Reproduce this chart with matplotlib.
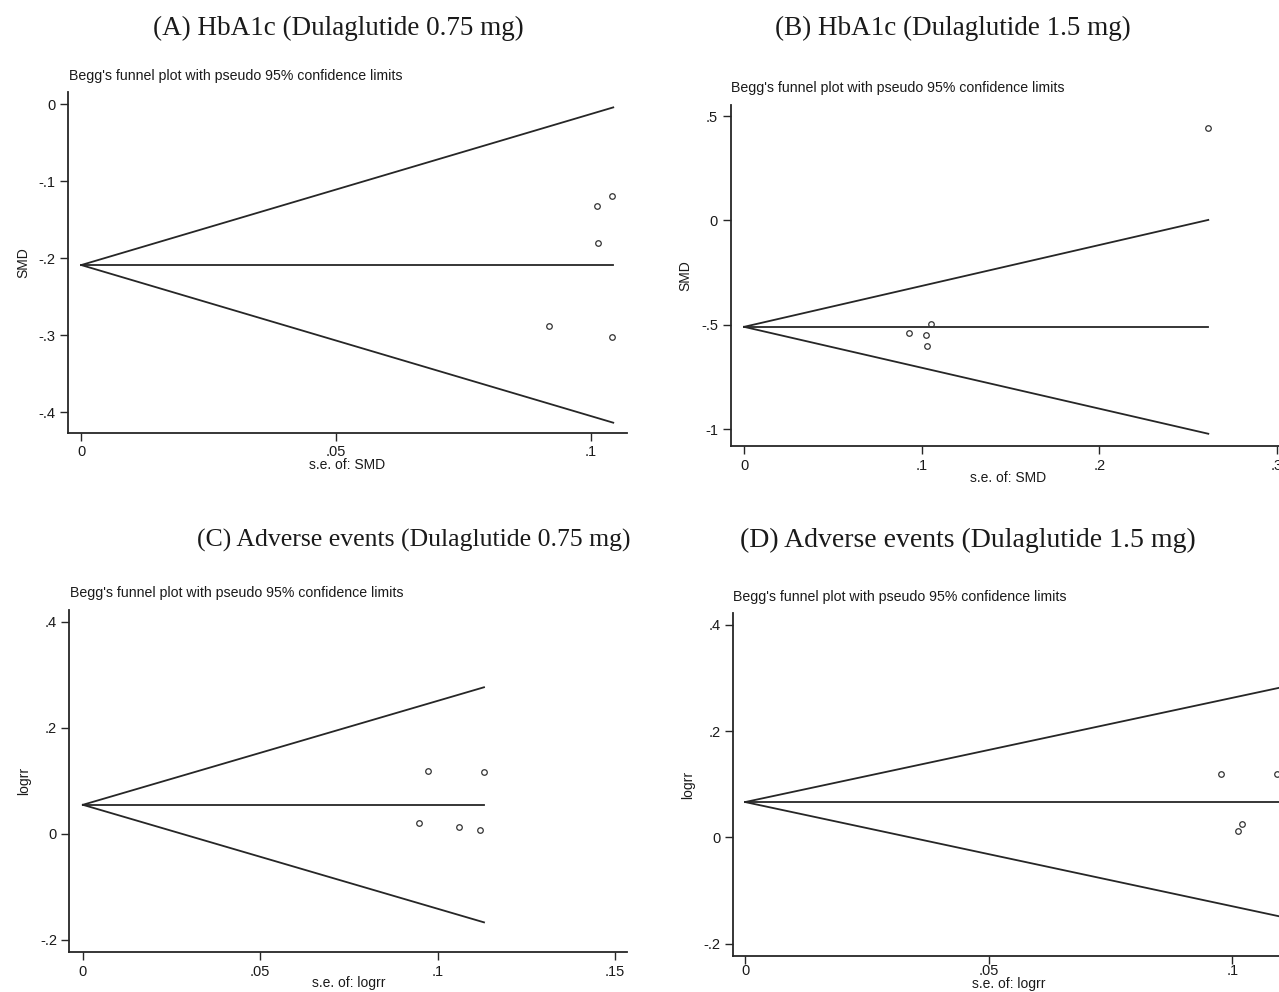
import matplotlib
matplotlib.use("Agg")
import matplotlib.pyplot as plt
import numpy as np

W, H = 1279, 992

# (A) HbA1c, dulaglutide 0.75 mg
se_a = [0.1012, 0.1042, 0.1014, 0.0917, 0.1042]
smd_a = [-0.133, -0.120, -0.181, -0.288, -0.303]
pooled_a = -0.209
se_max_a = 0.1044

# (B) HbA1c, dulaglutide 1.5 mg
se_b = [0.2614, 0.0926, 0.1023, 0.1051, 0.1028]
smd_b = [0.441, -0.538, -0.549, -0.497, -0.604]
pooled_b = -0.510
se_max_b = 0.2614

# (C) adverse events, dulaglutide 0.75 mg
se_c = [0.0972, 0.1131, 0.0947, 0.1061, 0.1120]
lrr_c = [0.118, 0.117, 0.020, 0.012, 0.007]
pooled_c = 0.0546
se_max_c = 0.1131

# (D) adverse events, dulaglutide 1.5 mg
se_d = [0.0976, 0.1091, 0.1019, 0.1012]
lrr_d = [0.119, 0.119, 0.025, 0.0126]
pooled_d = 0.0665
se_max_d = 0.1130

xt_a, xl_a = [0, 0.05, 0.1], ["0", ".05", ".1"]
yt_a, yl_a = [-0.4, -0.3, -0.2, -0.1, 0], ["-.4", "-.3", "-.2", "-.1", "0"]
xt_b, xl_b = [0, 0.1, 0.2, 0.3], ["0", ".1", ".2", ".3"]
yt_b, yl_b = [-1, -0.5, 0, 0.5], ["-1", "-.5", "0", ".5"]
xt_c, xl_c = [0, 0.05, 0.1, 0.15], ["0", ".05", ".1", ".15"]
yt_c, yl_c = [-0.2, 0, 0.2, 0.4], ["-.2", "0", ".2", ".4"]
xt_d, xl_d = [0, 0.05, 0.1], ["0", ".05", ".1"]
yt_d, yl_d = yt_c, yl_c

titles = [
    "(A) HbA1c (Dulaglutide 0.75 mg)",
    "(B) HbA1c (Dulaglutide 1.5 mg)",
    "(C) Adverse events (Dulaglutide 0.75 mg)",
    "(D) Adverse events (Dulaglutide 1.5 mg)",
]
SUB = "Begg's funnel plot with pseudo 95% confidence limits"
SANS = "Liberation Sans"
SERIF = "Liberation Serif"
LC = "#262626"
TC = "#1a1a1a"


def add_ax(fig, left, top, right, bottom):
    return fig.add_axes([left / W, 1 - bottom / H, (right - left) / W, (bottom - top) / H])


def funnel(ax, se, eff, pooled, se_max, xlim, ylim, xt, xl, yt, yl, xlabel, ylabel,
           xpad=-1, tpad=3):
    s = np.array([0, se_max])
    ax.plot(s, pooled + 1.96 * s, color=LC, lw=1.3, clip_on=False)
    ax.plot(s, pooled - 1.96 * s, color=LC, lw=1.3, clip_on=False)
    ax.plot(s, [pooled, pooled], color=LC, lw=1.3, clip_on=False)
    ax.plot(se, eff, "o", ms=4, mfc="none", mec="#333333", mew=0.9, clip_on=False)
    ax.set_xlim(*xlim)
    ax.set_ylim(*ylim)
    ax.set_xticks(xt)
    ax.set_xticklabels(xl)
    ax.set_yticks(yt)
    ax.set_yticklabels(yl)
    for sp in ("top", "right"):
        ax.spines[sp].set_visible(False)
    for sp in ("left", "bottom"):
        ax.spines[sp].set_linewidth(1.3)
        ax.spines[sp].set_color(LC)
    ax.tick_params(length=6, width=1, color=LC, labelsize=10.5, pad=3)
    ax.tick_params(axis="x", pad=tpad)
    for lab in ax.get_xticklabels() + ax.get_yticklabels():
        lab.set_fontfamily(SANS)
        lab.set_color(TC)
    ax.set_xlabel(xlabel, fontsize=10, family=SANS, color=TC, labelpad=xpad)
    ax.set_ylabel(ylabel, fontsize=10, family=SANS, color=TC, labelpad=6)
    ax.patch.set_alpha(0)


fig = plt.figure(figsize=(W / 100, H / 100), dpi=100)

ax_a = add_ax(fig, 68, 92, 626.5, 433)
funnel(ax_a, se_a, smd_a, pooled_a, se_max_a, (-0.0026, 0.107), (-0.427, 0.0156),
       xt_a, xl_a, yt_a, yl_a, "s.e. of: SMD", "SMD")

ax_b = add_ax(fig, 730.6, 105, 1285, 446)
funnel(ax_b, se_b, smd_b, pooled_b, se_max_b, (-0.0076, 0.3046), (-1.081, 0.553),
       xt_b, xl_b, yt_b, yl_b, "s.e. of: SMD", "SMD")

ax_c = add_ax(fig, 69.4, 610, 627.3, 952)
funnel(ax_c, se_c, lrr_c, pooled_c, se_max_c, (-0.0038, 0.1535), (-0.223, 0.422),
       xt_c, xl_c, yt_c, yl_c, "s.e. of: logrr", "logrr", xpad=-2)

ax_d = add_ax(fig, 733, 613, 1285, 956)
funnel(ax_d, se_d, lrr_d, pooled_d, se_max_d, (-0.0025, 0.1108), (-0.223, 0.422),
       xt_d, xl_d, yt_d, yl_d, "s.e. of: logrr", "logrr", xpad=-1, tpad=0)

# panel headings and Stata sub-captions
heads = [(338, 28, 19.5), (953, 28, 19.5), (414, 540, 18.5), (968, 540, 20)]
for (x, y, fs), t in zip(heads, titles):
    fig.text(x / W, 1 - y / H, t, ha="center", va="center", fontsize=fs,
             family=SERIF, color=TC)

for x, y in [(69, 76), (731, 88), (70, 593), (733, 597)]:
    fig.text(x / W, 1 - y / H, SUB, ha="left", va="center", fontsize=10.2,
             family=SANS, color=TC)

fig.savefig("out.png", dpi=100)
